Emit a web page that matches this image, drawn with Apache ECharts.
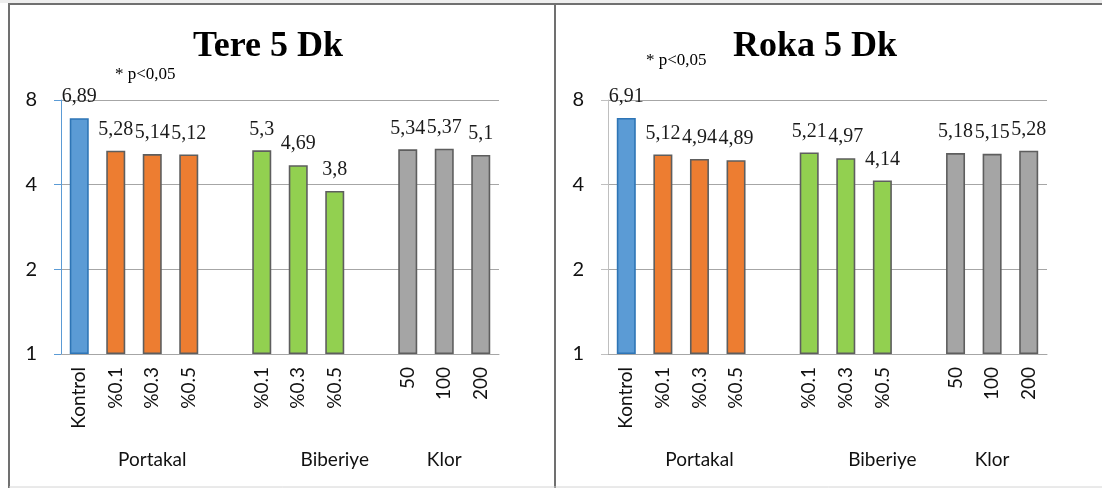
<!DOCTYPE html>
<html>
<head>
<meta charset="utf-8">
<script src="https://cdn.jsdelivr.net/npm/echarts@6/dist/echarts.min.js"></script>
<style>
  html, body { margin: 0; padding: 0; background: #ffffff; }
  #chart { width: 1102px; height: 488px; }
</style>
</head>
<body>
<div id="chart"></div>
<script>
// Categories along the x axis; empty slots separate the treatment groups
const categories = ['Kontrol', '%0.1', '%0.3', '%0.5', '', '%0.1', '%0.3', '%0.5', '', '50', '100', '200'];
// Group of each slot: 0 = Kontrol, 1 = Portakal, 2 = Biberiye, 3 = Klor, -1 = gap
const slotGroup = [0, 1, 1, 1, -1, 2, 2, 2, -1, 3, 3, 3];
// Group captions and the category slot each one is centred on
const groupNames = ['Portakal', 'Biberiye', 'Klor'];
const groupSlots = [2, 6.5, 10];

// log CFU values, 5 minutes
const tereValues = [6.89, 5.28, 5.14, 5.12, null, 5.3, 4.69, 3.8, null, 5.34, 5.37, 5.1];
const rokaValues = [6.91, 5.12, 4.94, 4.89, null, 5.21, 4.97, 4.14, null, 5.18, 5.15, 5.28];

const panelTitles = ['Tere 5 Dk', 'Roka 5 Dk'];
const noteText = '* p<0,05';
const yTicks = [1, 2, 4, 8];

const groupFill = ['#5b9bd5', '#ed7d31', '#92d050', '#a5a5a5'];
const groupBorder = ['#2e75b6', '#5e5e5e', '#5e5e5e', '#5e5e5e'];

const sansFont = 'Lato, "Open Sans", sans-serif';
const serifFont = '"Liberation Serif", "DejaVu Serif", serif';

function barItems(values) {
  return values.map((v, i) => {
    const g = slotGroup[i];
    if (v === null || g < 0) return { value: null };
    return {
      value: v,
      itemStyle: { color: groupFill[g], borderColor: groupBorder[g], borderWidth: 1.6 }
    };
  });
}

const grids = [
  { left: 61, top: 100, width: 438, height: 254 },
  { left: 608, top: 100, width: 439, height: 254 }
];
const yAxisColors = ['#5b9bd5', '#bfbfbf'];

function xAxisFor(idx) {
  return {
    type: 'category', gridIndex: idx, data: categories,
    axisLine: { lineStyle: { color: '#a6a6a6', width: 1 } },
    axisTick: { show: false },
    axisLabel: {
      interval: 0, rotate: 90, margin: 13,
      fontFamily: sansFont, fontSize: 19, color: '#111'
    }
  };
}
function yAxisFor(idx) {
  return {
    type: 'log', logBase: 2, gridIndex: idx, min: 1, max: 8, interval: 1,
    axisLine: { show: true, lineStyle: { color: yAxisColors[idx], width: 1 } },
    axisTick: { show: true, length: 7, lineStyle: { color: yAxisColors[idx] } },
    splitLine: { show: true, lineStyle: { color: '#a6a6a6', width: 1 } },
    axisLabel: {
      margin: 24, fontFamily: sansFont, fontSize: 20, color: '#111',
      formatter: v => (yTicks.indexOf(Math.round(v)) >= 0 ? String(Math.round(v)) : '')
    }
  };
}
function seriesFor(idx, values) {
  return {
    type: 'bar', xAxisIndex: idx, yAxisIndex: idx,
    data: barItems(values), barWidth: 19, animation: false,
    label: {
      show: true, position: 'top', distance: 11,
      fontFamily: serifFont, fontSize: 20, color: '#1a1a1a',
      formatter: p => (p.value == null ? '' : String(p.value).replace('.', ','))
    }
  };
}

const chart = echarts.init(document.getElementById('chart'), null, { renderer: 'canvas' });

chart.setOption({
  backgroundColor: '#ffffff',
  animation: false,
  grid: grids,
  xAxis: [xAxisFor(0), xAxisFor(1)],
  yAxis: [yAxisFor(0), yAxisFor(1)],
  series: [seriesFor(0, tereValues), seriesFor(1, rokaValues)]
});

// Frame lines, titles, notes and group captions
const frame = { stroke: '#707070', lineWidth: 2 };
const graphics = [
  { type: 'rect', shape: { x: 0, y: 0, width: 1102, height: 3 }, style: { fill: '#eeeeee' }, silent: true },
  { type: 'line', shape: { x1: 8, y1: 4, x2: 1102, y2: 4 }, style: frame, silent: true },
  { type: 'line', shape: { x1: 9, y1: 4, x2: 9, y2: 488 }, style: frame, silent: true },
  { type: 'line', shape: { x1: 555, y1: 4, x2: 555, y2: 488 }, style: frame, silent: true },
  { type: 'line', shape: { x1: 9, y1: 487, x2: 1102, y2: 487 }, style: { stroke: '#d4d4d4', lineWidth: 1 }, silent: true }
];

const titleCenters = [268, 815];
const noteAnchors = [[115, 75], [646, 61]];
panelTitles.forEach((t, i) => {
  graphics.push({
    type: 'text', x: titleCenters[i], y: 47,
    style: { text: t, font: 'bold 36px ' + serifFont, fill: '#000', textAlign: 'center', textVerticalAlign: 'middle' }
  });
  graphics.push({
    type: 'text', x: noteAnchors[i][0], y: noteAnchors[i][1],
    style: { text: noteText, font: '17px ' + serifFont, fill: '#000', textAlign: 'left', textVerticalAlign: 'middle' }
  });
  groupNames.forEach((name, k) => {
    const px = chart.convertToPixel({ xAxisIndex: i }, groupSlots[k]);
    graphics.push({
      type: 'text', x: px, y: 460,
      style: { text: name, font: '19px ' + sansFont, fill: '#111', textAlign: 'center', textVerticalAlign: 'middle' }
    });
  });
});

chart.setOption({ graphic: graphics });
</script>
</body>
</html>
